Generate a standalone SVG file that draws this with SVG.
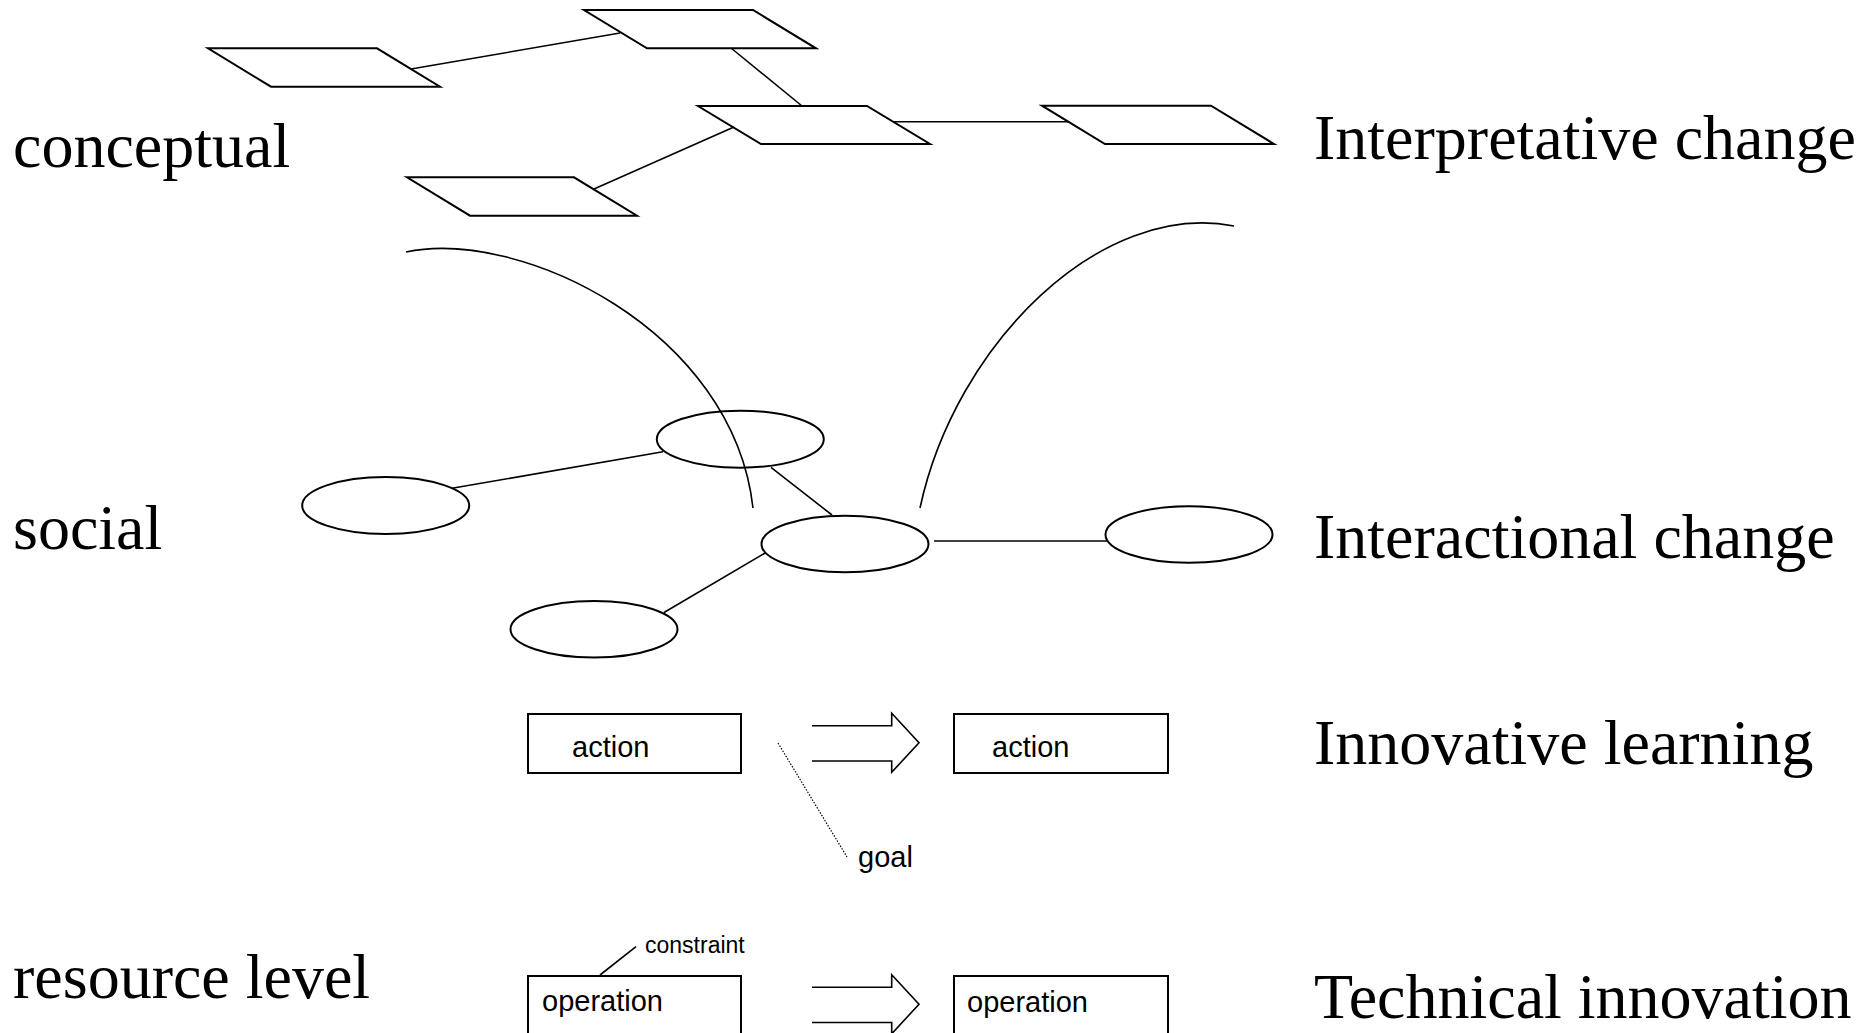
<svg xmlns="http://www.w3.org/2000/svg" width="1867" height="1033" viewBox="0 0 1867 1033">
<style>
.shape{fill:none;stroke:#000;stroke-width:2}
.line{fill:none;stroke:#000;stroke-width:1.6}
.dot{fill:none;stroke:#000;stroke-width:1.2;stroke-dasharray:1.5 1.5}
.big{font-family:"Liberation Serif","Times New Roman",serif;font-size:64px;fill:#000}
.small{font-family:"Liberation Sans",Arial,sans-serif;font-size:29px;fill:#000}
.tiny{font-family:"Liberation Sans",Arial,sans-serif;font-size:23px;fill:#000}
</style>
<rect width="1867" height="1033" fill="#fff"/>
<g id="connectors">
<line class="line" x1="411" y1="69" x2="620" y2="33"/>
<line class="line" x1="731" y1="48" x2="802" y2="106"/>
<line class="line" x1="893" y1="121.7" x2="1069" y2="121.7"/>
<line class="line" x1="594" y1="189" x2="734" y2="127"/>
<line class="line" x1="452" y1="488.3" x2="663" y2="451.7"/>
<line class="line" x1="771" y1="467.3" x2="832" y2="515"/>
<line class="line" x1="934" y1="541" x2="1107" y2="541"/>
<line class="line" x1="664" y1="612.5" x2="765.5" y2="552.7"/>
<path class="line" d="M406,252 C520,228 733,330 753,508"/>
<path class="line" d="M920,508 C955,345 1100,200 1234,226"/>
<line class="dot" x1="778" y1="743" x2="847" y2="857"/>
<line class="line" x1="600" y1="975" x2="636" y2="946.7"/>
<polyline class="line" points="812,725.7 891.7,725.7 891.7,713.3 919,742.7 891.7,772.3 891.7,761 812,761"/>
<polyline class="line" points="812,987.2 891.7,987.2 891.7,974.8 919,1004.2 891.7,1033.8 891.7,1022.5 812,1022.5"/>
</g>
<g id="p1"><polygon class="shape" points="208,48.3 377,48.3 440,86.7 271,86.7"/></g>
<g id="p2"><polygon class="shape" points="584,10 753,10 816,48.3 647,48.3"/></g>
<g id="p3"><polygon class="shape" points="698,106 867,106 930,144 761,144"/></g>
<g id="p4"><polygon class="shape" points="407,177.3 574,177.3 637,215.7 470,215.7"/></g>
<g id="p5"><polygon class="shape" points="1042,105.7 1211,105.7 1274,144 1105,144"/></g>
<g id="e1"><ellipse class="shape" cx="740.3" cy="439.2" rx="83.5" ry="28.5"/></g>
<g id="e2"><ellipse class="shape" cx="385.7" cy="505.5" rx="83.5" ry="28.5"/></g>
<g id="e3"><ellipse class="shape" cx="845" cy="544" rx="83.5" ry="28.3"/></g>
<g id="e4"><ellipse class="shape" cx="1189" cy="534.5" rx="83.5" ry="28.3"/></g>
<g id="e5"><ellipse class="shape" cx="594" cy="629.3" rx="83.5" ry="28.3"/></g>
<g id="action1"><rect class="shape" x="528" y="714" width="213" height="59"/><text class="small" x="572" y="757">action</text></g>
<g id="action2"><rect class="shape" x="954" y="714" width="214" height="59"/><text class="small" x="992" y="757">action</text></g>
<g id="operation1"><rect class="shape" x="528" y="976" width="213" height="80"/><text class="small" x="542" y="1011">operation</text></g>
<g id="operation2"><rect class="shape" x="954" y="976" width="214" height="80"/><text class="small" x="967" y="1011.5">operation</text></g>
<g id="goal"><text class="small" x="858" y="866.7">goal</text></g>
<g id="constraint"><text class="tiny" x="645" y="953">constraint</text></g>
<g id="labels">
<text class="big" x="13" y="167.3">conceptual</text>
<text class="big" x="13" y="549.3">social</text>
<text class="big" x="13" y="997.7">resource level</text>
<text class="big" x="1314" y="158.6">Interpretative change</text>
<text class="big" x="1314" y="557.6">Interactional change</text>
<text class="big" x="1314" y="764.3">Innovative learning</text>
<text class="big" x="1314" y="1017.7">Technical innovation</text>
</g>
</svg>
